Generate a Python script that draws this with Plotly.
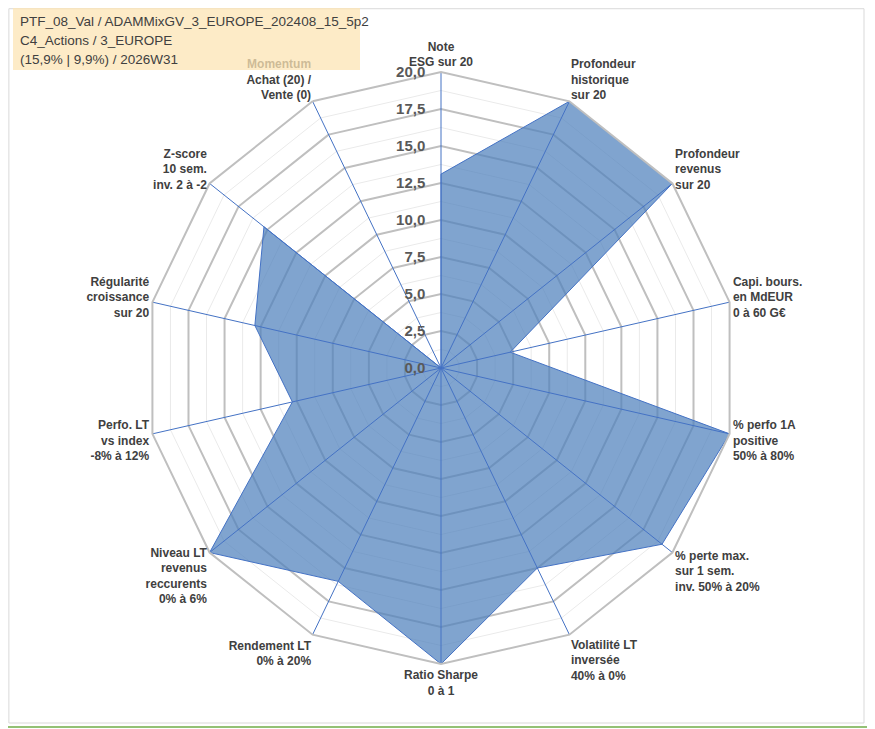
import plotly.graph_objects as go

# --------------------
# Data
# --------------------
criteria = [
    "Note<br>ESG sur 20",
    "Profondeur<br>historique<br>sur 20",
    "Profondeur<br>revenus<br>sur 20",
    "Capi. bours.<br>en MdEUR<br>0 à 60 G€",
    "% perfo 1A<br>positive<br>50% à 80%",
    "% perte max.<br>sur 1 sem.<br>inv. 50% à 20%",
    "Volatilité LT<br>inversée<br>40% à 0%",
    "Ratio Sharpe<br>0 à 1",
    "Rendement LT<br>0% à 20%",
    "Niveau LT<br>revenus<br>reccurents<br>0% à 6%",
    "Perfo. LT<br>vs index<br>-8% à 12%",
    "Régularité<br>croissance<br>sur 20",
    "Z-score<br>10 sem.<br>inv. 2 à -2",
    "Momentum<br>Achat (20) /<br>Vente (0)",
]
scores = [13.1, 20, 20, 4.8, 20, 19.1, 15, 20, 16, 20, 10.3, 12.9, 15.3, 0]

major_ticks = [0, 2.5, 5, 7.5, 10, 12.5, 15, 17.5, 20]
minor_levels = [1.25, 3.75, 6.25, 8.75, 11.25, 13.75, 16.25, 18.75]

title_lines = [
    "PTF_08_Val / ADAMMixGV_3_EUROPE_202408_15_5p2",
    "C4_Actions / 3_EUROPE",
    "(15,9% | 9,9%) / 2026W31",
]

# page has an 8px body margin, so the figure is sized to fit the window
W, H = 867, 721


def px(x):
    return (x - 8) / W


def py(y):
    return 1 - (y - 8) / H


closed = criteria + criteria[:1]

fig = go.Figure()

# minor grid rings
for lvl in minor_levels:
    fig.add_trace(go.Scatterpolar(
        r=[lvl] * len(closed), theta=closed, mode="lines",
        line=dict(color="#EAEAEA", width=1),
        hoverinfo="skip", showlegend=False,
    ))

# filled series
fig.add_trace(go.Scatterpolar(
    r=scores + scores[:1], theta=closed, mode="lines",
    fill="toself", fillcolor="rgba(79,129,189,0.72)",
    line=dict(color="#4472C4", width=1),
    showlegend=False,
))

# spokes above the fill
spoke_theta, spoke_r = [], []
for c in criteria:
    spoke_theta += [c, c, None]
    spoke_r += [0, 20, None]
fig.add_trace(go.Scatterpolar(
    r=spoke_r, theta=spoke_theta, mode="lines",
    line=dict(color="#4472C4", width=1),
    hoverinfo="skip", showlegend=False, connectgaps=False,
))

rad = 296
cx, cy = 441, 368
title_annots = [
    dict(xref="paper", yref="paper", x=px(18), y=py(yc),
         xanchor="left", yanchor="middle", align="left", showarrow=False,
         text=t, font=dict(size=13.5, color="#404040", family="Liberation Sans"))
    for t, yc in zip(title_lines, [22, 41, 60])
]

fig.update_layout(
    width=W, height=H,
    margin=dict(l=0, r=0, t=0, b=0),
    paper_bgcolor="white",
    separators=", ",
    font=dict(family="Liberation Sans", color="#404040"),
    polar=dict(
        domain=dict(x=[px(cx - rad), px(cx + rad)], y=[py(cy + rad), py(cy - rad)]),
        bgcolor="white",
        gridshape="linear",
        radialaxis=dict(
            range=[0, 20], tickvals=major_ticks, tickformat=".1f",
            angle=90, side="counterclockwise", tickangle=90,
            showline=False, ticks="outside", ticklen=10,
            tickcolor="rgba(0,0,0,0)",
            gridcolor="#BFBFBF", gridwidth=2,
            tickfont=dict(size=15, color="#595959", weight="bold"),
            layer="above traces",
        ),
        angularaxis=dict(
            direction="clockwise", rotation=90,
            showgrid=False, ticks="",
            showline=True, linecolor="#BFBFBF", linewidth=2,
            tickfont=dict(size=12, color="#404040", weight="bold"),
        ),
    ),
    shapes=[
        dict(type="rect", xref="paper", yref="paper", x0=0.001, x1=px(864),
             y0=py(723), y1=0.999, line=dict(color="#D9D9D9", width=1)),
        dict(type="line", xref="paper", yref="paper", x0=px(873), x1=px(873),
             y0=0, y1=1, line=dict(color="#808080", width=1.5)),
        dict(type="line", xref="paper", yref="paper", x0=0, x1=1,
             y0=py(727), y1=py(727), line=dict(color="#70AD47", width=1.5)),
        dict(type="rect", xref="paper", yref="paper", layer="above",
             x0=px(13), x1=px(360), y0=py(70), y1=py(8),
             fillcolor="rgba(252,228,180,0.75)", line=dict(width=0)),
    ],
    annotations=title_annots,
)

fig.write_html("out.html")
